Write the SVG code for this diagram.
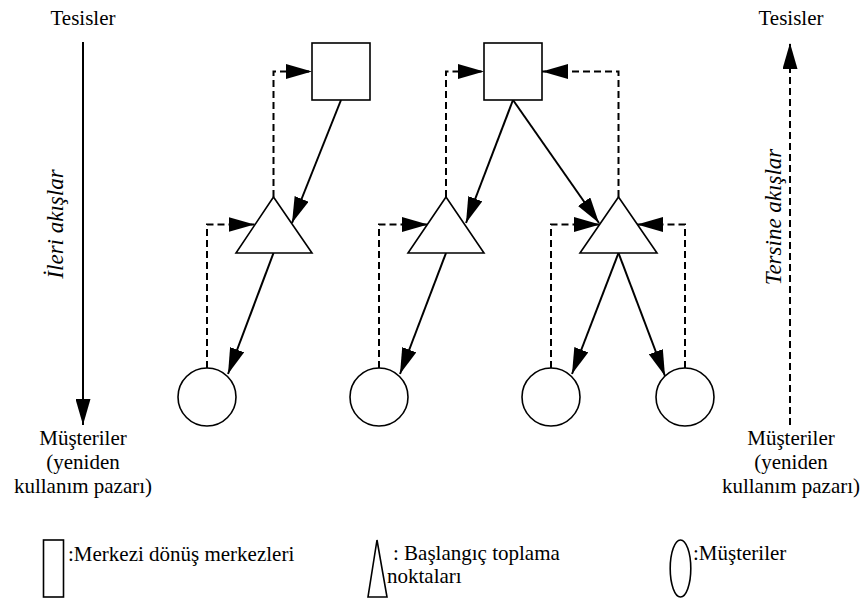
<svg xmlns="http://www.w3.org/2000/svg" width="861" height="603" viewBox="0 0 861 603">
<style>
.t{font-size:21px;fill:#000}
.mid{text-anchor:middle}
.it{font-style:italic;font-size:23px}
.shape{fill:#fff;stroke:#000;stroke-width:1.6}
.sol{fill:none;stroke:#000;stroke-width:2}
.dash{fill:none;stroke:#000;stroke-width:2;stroke-dasharray:7 4}
</style>
<defs>
<marker id="ah" markerUnits="userSpaceOnUse" markerWidth="26" markerHeight="15" refX="26" refY="7.5" orient="auto">
<path d="M0,0 L26,7.5 L0,15 z" fill="#000"/>
</marker>
</defs>
<rect width="861" height="603" fill="#fff"/>

<g id="axes" font-family="Liberation Serif, serif">
<text class="t mid" x="83" y="25">Tesisler</text>
<line class="sol" x1="83" y1="42" x2="83" y2="425" marker-end="url(#ah)"/>
<text class="t it mid" transform="translate(63,224) rotate(-90)">İleri akışlar</text>
<text class="t mid" x="83" y="445">Müşteriler</text>
<text class="t mid" x="83" y="469">(yeniden</text>
<text class="t mid" x="83" y="493">kullanım pazarı)</text>

<text class="t mid" x="791" y="25">Tesisler</text>
<line class="dash" x1="790" y1="425" x2="790" y2="43" marker-end="url(#ah)"/>
<text class="t it mid" transform="translate(781,217) rotate(-90)">Tersine akışlar</text>
<text class="t mid" x="791" y="445">Müşteriler</text>
<text class="t mid" x="791" y="469">(yeniden</text>
<text class="t mid" x="791" y="493">kullanım pazarı)</text>
</g>

<g id="connectors">
<path class="dash" d="M273.5,197 V71.5 H312" marker-end="url(#ah)"/>
<path class="dash" d="M207,368 V224.5 H254.5" marker-end="url(#ah)"/>
<path class="dash" d="M379,368 V224.5 H428" marker-end="url(#ah)"/>
<path class="dash" d="M446,197 V71.5 H484" marker-end="url(#ah)"/>
<path class="dash" d="M618.5,197 V71.5 H542" marker-end="url(#ah)"/>
<path class="dash" d="M551,368 V224.5 H600" marker-end="url(#ah)"/>
<path class="dash" d="M685,368 V224.5 H637" marker-end="url(#ah)"/>

<line class="sol" x1="341" y1="100" x2="292" y2="223" marker-end="url(#ah)"/>
<line class="sol" x1="273.5" y1="253" x2="228" y2="374" marker-end="url(#ah)"/>
<line class="sol" x1="513" y1="100" x2="466" y2="223" marker-end="url(#ah)"/>
<line class="sol" x1="513" y1="100" x2="599" y2="223" marker-end="url(#ah)"/>
<line class="sol" x1="446" y1="253" x2="400" y2="374" marker-end="url(#ah)"/>
<line class="sol" x1="618.5" y1="253" x2="572" y2="374" marker-end="url(#ah)"/>
<line class="sol" x1="618.5" y1="253" x2="665" y2="376" marker-end="url(#ah)"/>
</g>

<g id="center1"><rect class="shape" x="312" y="43" width="58" height="57"/></g>
<g id="center2"><rect class="shape" x="484" y="43" width="58" height="57"/></g>
<g id="collect1"><polygon class="shape" points="273.5,197 312,253 236,253"/></g>
<g id="collect2"><polygon class="shape" points="446,197 484,253 408,253"/></g>
<g id="collect3"><polygon class="shape" points="618.5,197 657,253 580,253"/></g>
<g id="customer1"><circle class="shape" cx="207" cy="397" r="29"/></g>
<g id="customer2"><circle class="shape" cx="379" cy="397" r="29"/></g>
<g id="customer3"><circle class="shape" cx="551" cy="397" r="29"/></g>
<g id="customer4"><circle class="shape" cx="685" cy="397" r="29"/></g>

<g id="legend" font-family="Liberation Serif, serif">
<rect class="shape" x="43.5" y="540" width="20" height="57"/>
<text class="t" x="68" y="561">:Merkezi dönüş merkezleri</text>
<polygon class="shape" points="377,540 387,597 368,597"/>
<text class="t" x="393" y="560">: Başlangıç toplama</text>
<text class="t" x="387" y="583">noktaları</text>
<ellipse class="shape" cx="680.5" cy="568.5" rx="10.3" ry="28.5"/>
<text class="t" x="693" y="560">:Müşteriler</text>
</g>
</svg>
